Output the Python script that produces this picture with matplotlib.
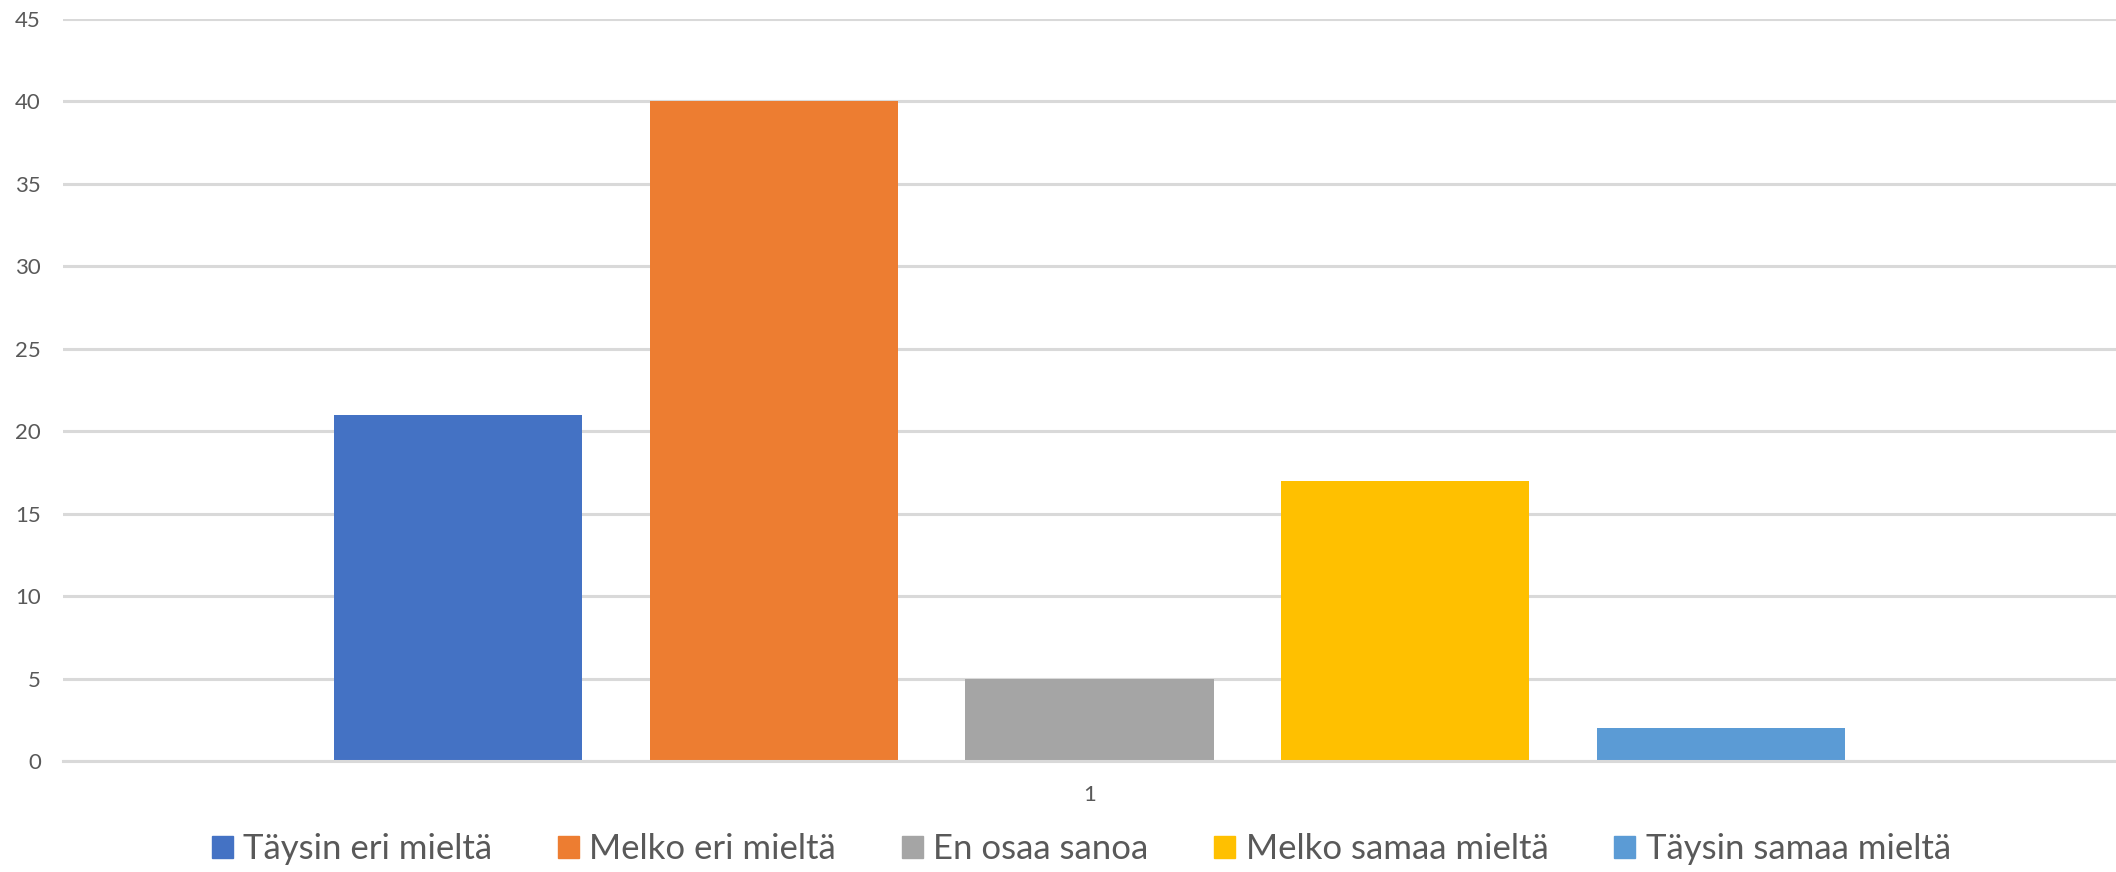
import matplotlib.pyplot as plt
from matplotlib.patches import Patch

categories = ["1"]
series = ["Täysin eri mieltä", "Melko eri mieltä", "En osaa sanoa",
          "Melko samaa mieltä", "Täysin samaa mieltä"]
values = [21, 40, 5, 17, 2]
colors = ["#4472C4", "#ED7D31", "#A5A5A5", "#FFC000", "#5B9BD5"]
yticks = [0, 5, 10, 15, 20, 25, 30, 35, 40, 45]

plt.rcParams['font.family'] = ['Lato', 'DejaVu Sans']

fig = plt.figure(figsize=(21.16, 8.72), dpi=100)
ax = fig.add_axes([63 / 2116, 1 - 761 / 872, 1 - 63 / 2116, (761 - 19) / 872])

width = 0.1208
step = 0.1539
for i, (name, v, c) in enumerate(zip(series, values, colors)):
    ax.bar(0 + (i - 2) * step, v, width=width, color=c, label=name, zorder=3)

ax.set_xlim(-0.5, 0.5)
ax.set_ylim(0, 45)
ax.set_yticks(yticks)
ax.set_xticks([0])
ax.set_xticklabels(categories)
ax.tick_params(axis='both', length=0, colors='#595959', labelsize=16)
ax.tick_params(axis='y', pad=16)
ax.tick_params(axis='x', pad=17)
ax.grid(axis='y', color='#D9D9D9', linewidth=2.2, zorder=0)
for s in ['top', 'right', 'left']:
    ax.spines[s].set_visible(False)
ax.spines['bottom'].set_color('#D9D9D9')
ax.spines['bottom'].set_linewidth(2.2)
ax.spines['bottom'].set_zorder(4)

handles = [Patch(color=c, label=n) for n, c in zip(series, colors)]
leg = fig.legend(handles=handles, loc='center', bbox_to_anchor=(0.511, 0.026),
                 ncol=5, frameon=False, fontsize=25, handlelength=0.6,
                 handleheight=0.6, handletextpad=0.3, columnspacing=1.9)
for t in leg.get_texts():
    t.set_color('#595959')

fig.savefig("out.png", dpi=100)
